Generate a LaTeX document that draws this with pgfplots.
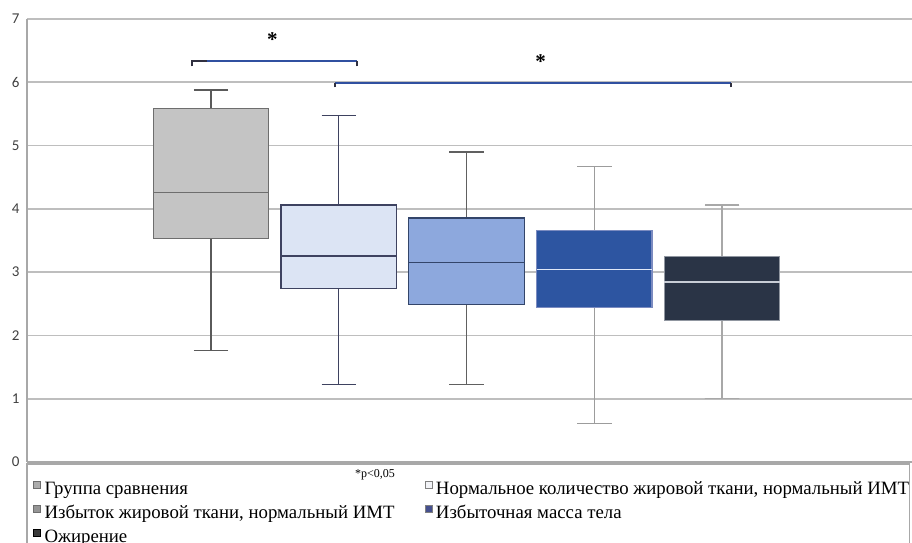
\documentclass[border=0pt]{standalone}
\usepackage{pgfplots}
\pgfplotsset{compat=1.18}
\usepgfplotslibrary{statistics}
\usepackage{fontspec}
\setmainfont{Liberation Serif}
\newfontfamily\tickfont{Carlito}

\definecolor{gridgray}{HTML}{BEBEBE}
\definecolor{axisgray}{HTML}{A8A8A8}
\definecolor{ticktext}{HTML}{404040}
\definecolor{boxAfill}{HTML}{C4C4C4}
\definecolor{boxAdraw}{HTML}{6E6E6E}
\definecolor{boxAwhisk}{HTML}{5A5A5A}
\definecolor{boxBfill}{HTML}{DCE4F4}
\definecolor{boxBdraw}{HTML}{3E4260}
\definecolor{boxCfill}{HTML}{8DA8DD}
\definecolor{boxCdraw}{HTML}{33456A}
\definecolor{boxCwhisk}{HTML}{606060}
\definecolor{boxDfill}{HTML}{2D55A1}
\definecolor{boxDdraw}{HTML}{7B8BC0}
\definecolor{boxDwhisk}{HTML}{9C9C9C}
\definecolor{boxDmed}{HTML}{E0E8F8}
\definecolor{boxEfill}{HTML}{2A3446}
\definecolor{boxEdraw}{HTML}{9096A0}
\definecolor{boxEwhisk}{HTML}{A8A8A8}
\definecolor{boxEmed}{HTML}{C8CDD6}
\definecolor{bracketblue}{HTML}{3050A0}
\definecolor{bracketend}{HTML}{303040}
\definecolor{legA}{HTML}{ACACAC}
\definecolor{legB}{HTML}{F2F3F7}
\definecolor{legC}{HTML}{959595}
\definecolor{legD}{HTML}{45508E}
\definecolor{legE}{HTML}{3A3A3A}

\begin{document}
\begin{tikzpicture}[x=1pt,y=1pt]
\useasboundingbox (0,0) rectangle (912,542);
% legend frame
\draw[draw=axisgray, line width=1.2pt, fill=white] (27,78) rectangle (909.5,-30);
\node[font=\fontsize{12}{12}\selectfont, anchor=center] at (375,67) {*p<0,05};

\begin{axis}[
  at={(27pt,80pt)}, anchor=south west,
  scale only axis, width=885pt, height=443pt,
  xmin=-0.4403, xmax=6.487, ymin=0, ymax=7,
  ytick={0,1,2,3,4,5,6,7}, xtick=\empty,
  axis lines*=left,
  axis line style={draw=axisgray, line width=1.5pt},
  ymajorgrids, grid style={draw=gridgray, line width=1.6pt},
  major tick length=0pt,
  /pgf/number format/assume math mode=true,
  yticklabel style={font=\tickfont\fontsize{15}{15}\selectfont, text=ticktext, xshift=-4pt},
  clip=false,
  boxplot/draw direction=y,
  legend columns=2,
  legend cell align=left,
  legend style={at={(axis description cs:0,0)}, anchor=north west,
    xshift=3pt, yshift=-14.5pt, draw=none, fill=none,
    font=\fontsize{18.8}{18.8}\selectfont, row sep=0pt,
    nodes={inner ysep=2pt, text height=14pt, text depth=6pt},
    /tikz/every odd column/.append style={column sep=1.5pt},
    /tikz/every even column/.append style={column sep=28pt}},
  legend image code/.code={\draw[#1, line width=0.8pt] (0pt,2.5pt) rectangle (7pt,9.5pt);},
]
% Группа сравнения
\addplot[forget plot, draw=boxAdraw, fill=boxAfill, line width=1.4pt,
  boxplot/every whisker/.style={draw=boxAwhisk},
  boxplot prepared={draw position=1, lower whisker=1.765, lower quartile=3.53,
    median=4.26, upper quartile=5.59, upper whisker=5.878,
    box extend=0.904, whisker extend=0.27}] coordinates {};
% Нормальное количество жировой ткани
\addplot[forget plot, draw=boxBdraw, fill=boxBfill, line width=1.4pt,
  boxplot prepared={draw position=2, lower whisker=1.22, lower quartile=2.74,
    median=3.255, upper quartile=4.06, upper whisker=5.48,
    box extend=0.904, whisker extend=0.27}] coordinates {};
% Избыток жировой ткани
\addplot[forget plot, draw=boxCdraw, fill=boxCfill, line width=1.4pt,
  boxplot/every whisker/.style={draw=boxCwhisk},
  boxplot prepared={draw position=3, lower whisker=1.22, lower quartile=2.485,
    median=3.15, upper quartile=3.855, upper whisker=4.90,
    box extend=0.904, whisker extend=0.27}] coordinates {};
% Избыточная масса тела
\addplot[forget plot, draw=boxDdraw, fill=boxDfill, line width=1.4pt,
  boxplot/every whisker/.style={draw=boxDwhisk},
  boxplot/every median/.style={draw=boxDmed},
  boxplot prepared={draw position=4, lower whisker=0.61, lower quartile=2.44,
    median=3.045, upper quartile=3.655, upper whisker=4.666,
    box extend=0.904, whisker extend=0.27}] coordinates {};
% Ожирение
\addplot[forget plot, draw=boxEdraw, fill=boxEfill, line width=1.4pt,
  boxplot/every whisker/.style={draw=boxEwhisk},
  boxplot/every median/.style={draw=boxEmed},
  boxplot prepared={draw position=5, lower whisker=1.0, lower quartile=2.235,
    median=2.845, upper quartile=3.245, upper whisker=4.06,
    box extend=0.904, whisker extend=0.27}] coordinates {};

\addlegendimage{draw=boxAdraw, fill=legA}
\addlegendimage{draw=gray, fill=legB}
\addlegendimage{draw=boxAdraw, fill=legC}
\addlegendimage{draw=gray, fill=legD}
\addlegendimage{draw=black, fill=legE}
\legend{Группа сравнения, {Нормальное количество жировой ткани, нормальный ИМТ},
  {Избыток жировой ткани, нормальный ИМТ}, Избыточная масса тела, Ожирение}

% significance brackets
\draw[bracketblue, line width=2.2pt] (axis cs:0.85,6.336) -- (axis cs:2.14,6.336);
\draw[bracketend, line width=2pt] (axis cs:0.85,6.25) -- (axis cs:0.85,6.336) -- (axis cs:0.97,6.336);
\draw[bracketend, line width=2pt] (axis cs:2.14,6.25) -- (axis cs:2.14,6.336);
\draw[bracketblue, line width=2.2pt] (axis cs:1.97,5.99) -- (axis cs:5.07,5.99);
\draw[bracketend, line width=1.8pt] (axis cs:1.97,5.92) -- (axis cs:1.97,5.99);
\draw[bracketend, line width=1.8pt] (axis cs:5.07,5.92) -- (axis cs:5.07,5.99);
\node[font=\fontsize{21}{21}\selectfont\bfseries] at (axis cs:1.48,6.67) {*};
\node[font=\fontsize{21}{21}\selectfont\bfseries] at (axis cs:3.58,6.32) {*};
\end{axis}
\end{tikzpicture}
\end{document}
